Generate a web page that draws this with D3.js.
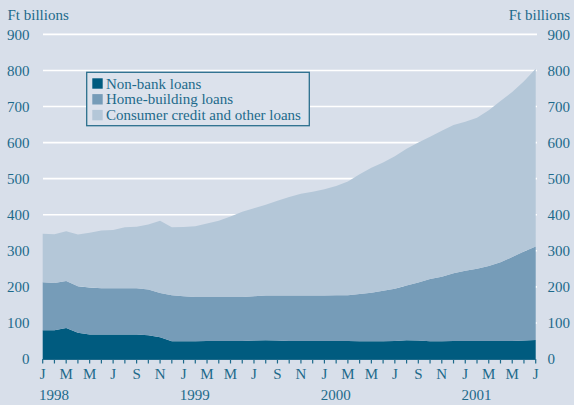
<!DOCTYPE html>
<html><head><meta charset="utf-8">
<script src="https://cdn.jsdelivr.net/npm/d3@7"></script>
<style>
html,body{margin:0;padding:0;background:#d8dfea;}
svg{display:block;font-family:"Liberation Serif","Times New Roman",serif;}
</style></head>
<body><svg id="c" width="574" height="405"></svg>
<script>
// Monthly, Jan 1998 .. Jul 2001
const months = d3.range(43);
const nonBank = [80,80,86,73,68,68,68,68,68,66,60,49,49,49,50,50,50,50,51,52,51,50,50,50,50,50,50,49,49,49,50,52,51,49,49,50,50,50,50,50,50,51,53];
const homeTop = [213,211,216,202,198,196,196,196,196,193,183,177,174,172,172,172,172,172,174,176,176,176,176,176,176,177,177,180,184,189,195,204,212,222,228,238,245,250,258,268,283,298,312];
const totalTop = [347,346,354,345,350,356,358,365,367,373,383,365,366,368,376,383,395,408,418,428,439,449,458,464,471,480,492,512,530,545,562,583,600,616,633,649,658,669,690,715,740,770,805];
const yTicks = [0,100,200,300,400,500,600,700,800,900];
const monthLabels = ["J","M","M","J","S","N"];
const years = ["1998","1999","2000","2001"];
const seriesNames = ["Non-bank loans","Home-building loans","Consumer credit and other loans"];
const colors = ["#005b7f","#769cb8","#b4c7d8"];

const homeVals = homeTop.map((v,i)=>v-nonBank[i]);
const consVals = totalTop.map((v,i)=>v-homeTop[i]);
const rows = months.map(i=>({i, a:nonBank[i], b:homeVals[i], c:consVals[i]}));

const svg = d3.select("#c");
const textCol = "#1d6a8b";
const x = d3.scaleLinear().domain([0,42]).range([42.7,535.7]);
const y = d3.scaleLinear().domain([0,900]).range([359,34.4]);

svg.append("rect").attr("width",574).attr("height",405).attr("fill","#d8dfea");

// gridlines
svg.append("g").selectAll("line").data(yTicks.filter(d=>d>0)).join("line")
  .attr("x1",43).attr("x2",537).attr("y1",d=>y(d)).attr("y2",d=>y(d))
  .attr("stroke","#ffffff").attr("stroke-width",1.6);

const stack = d3.stack().keys(["a","b","c"])(rows);
const area = d3.area().x(d=>x(d.data.i)).y0(d=>y(d[0])).y1(d=>y(d[1]));
svg.append("g").selectAll("path").data(stack).join("path")
  .attr("d",area).attr("fill",(d,k)=>colors[k]);

// y axes labels
const gl = svg.append("g").attr("fill",textCol).attr("font-size",15);
gl.selectAll("text.l").data(yTicks).join("text").attr("class","l")
  .attr("x",29.5).attr("y",d=>y(d)).attr("dy","0.34em").attr("text-anchor","end").text(d=>d);
gl.selectAll("text.r").data(yTicks).join("text").attr("class","r")
  .attr("x",547.5).attr("y",d=>y(d)).attr("dy","0.34em").attr("text-anchor","start").text(d=>d);
gl.append("text").attr("x",7.5).attr("y",20).text("Ft billions");
gl.append("text").attr("x",570).attr("y",20).attr("text-anchor","end").text("Ft billions");

// x axis
const xa = svg.append("g");
xa.append("line").attr("x1",x(0)).attr("x2",x(42)).attr("y1",359.5).attr("y2",359.5)
  .attr("stroke",textCol).attr("stroke-width",1);
xa.selectAll("line.t").data(months).join("line").attr("class","t")
  .attr("x1",d=>x(d)).attr("x2",d=>x(d)).attr("y1",359).attr("y2",363.5)
  .attr("stroke",textCol).attr("stroke-width",1.2);
xa.selectAll("text.m").data(months.filter(d=>d%2===0)).join("text").attr("class","m")
  .attr("x",d=>x(d)).attr("y",379).attr("text-anchor","middle")
  .attr("fill",textCol).attr("font-size",15).text(d=>monthLabels[(d%12)/2]);
xa.selectAll("text.y").data(years).join("text").attr("class","y")
  .attr("x",(d,k)=>x(k*12)-3.7).attr("y",400)
  .attr("fill",textCol).attr("font-size",15).text(d=>d);

// legend
const lg = svg.append("g");
lg.append("rect").attr("x",86.7).attr("y",72.3).attr("width",222.6).attr("height",53.4)
  .attr("fill","#dce2ec").attr("stroke","#2a6f8e").attr("stroke-width",1.3);
seriesNames.forEach((n,k)=>{
  const cy = 83.5 + k*15.8;
  lg.append("rect").attr("x",92.3).attr("y",cy-5.2).attr("width",10.4).attr("height",10.4).attr("fill",colors[k]);
  lg.append("text").attr("x",106).attr("y",cy).attr("dy","0.34em").attr("fill",textCol)
    .attr("font-size",15).text(n);
});
</script></body></html>
